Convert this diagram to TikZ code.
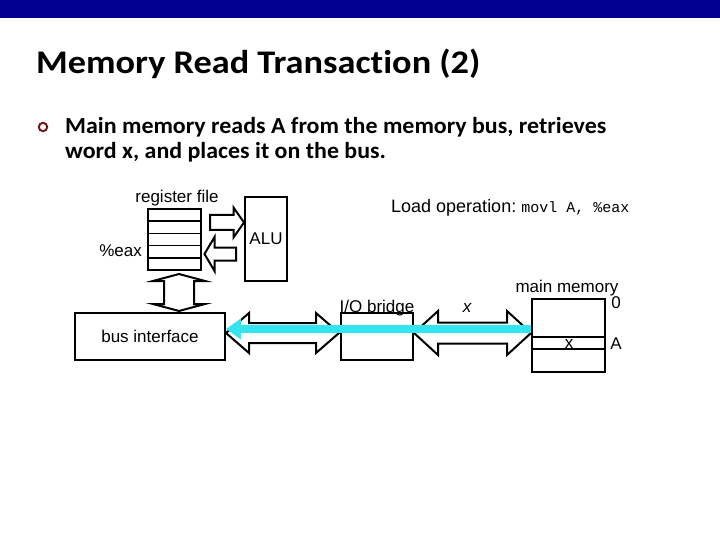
\documentclass[tikz,border=0pt]{standalone}
\usepackage{fontspec}
\setmainfont{Liberation Sans}
\newfontfamily\calib{Carlito}[FakeStretch=1.04,Ligatures=NoCommon]
\newfontfamily\calibt{Carlito}[FakeStretch=1.10,Ligatures=NoCommon]
\newfontfamily\monof{Liberation Mono}
\usetikzlibrary{calc}
\definecolor{navybar}{RGB}{0,0,144}
\definecolor{cyanbus}{RGB}{51,229,240}
\definecolor{bulletred}{RGB}{120,20,30}
\newcommand\dblharrow[5]{%
  \draw[blockarrow] (#1) -- ($(#1)+(#5,-#4)$) -- ($(#1)+(#5,-#3)$) -- ($(#2)+(-#5,-#3)$) -- ($(#2)+(-#5,-#4)$) -- (#2) -- ($(#2)+(-#5,#4)$) -- ($(#2)+(-#5,#3)$) -- ($(#1)+(#5,#3)$) -- ($(#1)+(#5,#4)$) -- cycle;}
\newcommand\dblvarrow[5]{%
  \draw[blockarrow] (#1) -- ($(#1)+(#4,#5)$) -- ($(#1)+(#3,#5)$) -- ($(#2)+(#3,-#5)$) -- ($(#2)+(#4,-#5)$) -- (#2) -- ($(#2)+(-#4,-#5)$) -- ($(#2)+(-#3,-#5)$) -- ($(#1)+(-#3,#5)$) -- ($(#1)+(-#4,#5)$) -- cycle;}
% #1 tail, #2 tip, #3 shaft half, #4 head half, #5 head length, #6 direction (1 right, -1 left)
\newcommand\sglharrow[6]{%
  \draw[blockarrow] ($(#1)+(0,-#3)$) -- ($(#2)+({-#6*#5},-#3)$) -- ($(#2)+({-#6*#5},-#4)$) -- (#2) -- ($(#2)+({-#6*#5},#4)$) -- ($(#2)+({-#6*#5},#3)$) -- ($(#1)+(0,#3)$) -- cycle;}
\begin{document}
\begin{tikzpicture}[x=1pt,y=-1pt,
  box/.style={draw, line width=2pt, inner sep=0pt, font=\fontsize{17}{20}\selectfont},
  blockarrow/.style={draw, line width=2pt, fill=white, line join=miter},
  lbl/.style={font=\fontsize{17}{20}\selectfont, inner sep=0pt},
  titlef/.style={font=\calibt\bfseries\fontsize{33}{40}\selectfont, inner sep=0pt},
  bodyf/.style={font=\calib\bfseries\fontsize{23}{28}\selectfont, inner sep=0pt}]
\useasboundingbox (0,0) rectangle (720,540);
\fill[navybar] (0,0) rectangle (720,18);
% title and bullet
\node[titlef, anchor=base west] (title) at (36,74) {Memory Read Transaction (2)};
\draw[bulletred, line width=2pt] (43,127) circle (4.2);
\node[bodyf, anchor=base west] (line1) at (65,134) {Main memory reads A from the memory bus, retrieves};
\node[bodyf, anchor=base west] (line2) at (65,159) {word x, and places it on the bus.};
% boxes
\node[box, minimum width=53pt, minimum height=61pt] (regfile) at (174.5,239.5) {};
\foreach \yy in {221.2,233.4,245.6,257.8}
  \draw[line width=1.6pt] (regfile.west |- 0,\yy) -- (regfile.east |- 0,\yy);
\node[box, minimum width=42pt, minimum height=84pt] (alu) at (266,239) {ALU};
\node[box, minimum width=150pt, minimum height=47pt] (bus) at (150,336.5) {bus interface};
\node[box, minimum width=72pt, minimum height=47pt] (bridge) at (377,336.5) {};
\node[box, minimum width=73pt, minimum height=73pt] (mem) at (568.5,335.5) {};
\draw[line width=2pt] (mem.west |- 0,337) -- (mem.east |- 0,337);
\draw[line width=2pt] (mem.west |- 0,349) -- (mem.east |- 0,349);
% block arrows
\coordinate (t1) at ($(regfile.east |- 0,222.5)+(8,0)$);
\coordinate (h1) at (alu.west |- 0,222.5);
\sglharrow{t1}{h1}{7.5}{15}{10.5}{1}
\coordinate (t2) at ($(alu.west |- 0,254)+(-8,0)$);
\coordinate (h2) at ($(regfile.east |- 0,254)+(2.5,0)$);
\sglharrow{t2}{h2}{6.5}{17}{10}{-1}
\coordinate (vt) at (179,274);
\coordinate (vb) at ($(bus.north -| vt)+(0,-1)$);
\dblvarrow{vt}{vb}{15}{26}{7}
\coordinate (b1l) at (bus.east |- 0,333);
\coordinate (b1r) at ($(bridge.west |- 0,333)+(-1,0)$);
\dblharrow{b1l}{b1r}{10}{20}{23}
\coordinate (b2l) at (bridge.east |- 0,333);
\coordinate (b2r) at (mem.west |- 0,333);
\dblharrow{b2l}{b2r}{10.5}{22}{24}
% cyan bus
\coordinate (ctip) at (bus.east |- 0,329);
\coordinate (cend) at (mem.west |- 0,329);
\fill[cyanbus] ($(ctip)+(15,-4)$) rectangle ($(cend)+(0,4)$);
\fill[cyanbus] (ctip) -- ($(ctip)+(15,-10.5)$) -- ($(ctip)+(15,10.5)$) -- cycle;
% labels
\node[lbl, anchor=base] (rflabel) at (177,203) {register file};
\node[lbl, anchor=base east] (eaxlabel) at (142,256) {\%eax};
\node[lbl, anchor=base] (brlabel) at (377,312) {I/O bridge};
\node[lbl, anchor=base] (xlabel) at (467,312) {\itshape x};
\node[lbl, anchor=base] (mmlabel) at (567,292) {main memory};
\node[lbl, anchor=base] (zlabel) at (616,308) {0};
\node[lbl, anchor=base] (alabel) at (616,349) {A};
\node[lbl, anchor=base] (xcell) at (569,348) {x};
\node[lbl, anchor=base west, font=\fontsize{18}{21}\selectfont] (loadop) at (391,212.5) {Load operation:\hspace{5pt}{\monof\fontsize{15}{18}\selectfont movl A, \%eax}};
\end{tikzpicture}
\end{document}
